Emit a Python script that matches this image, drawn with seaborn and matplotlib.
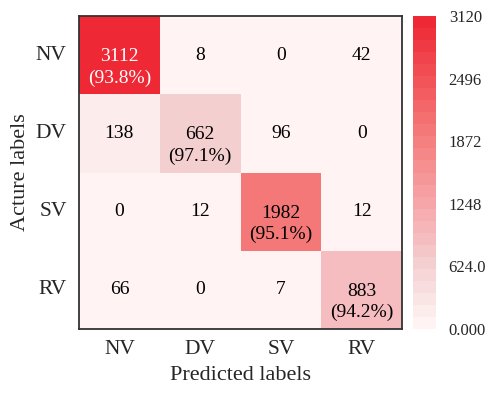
import numpy as np
import pandas as pd
import seaborn as sns
import matplotlib
matplotlib.use("Agg")
import matplotlib.pyplot as plt
from matplotlib.colors import LinearSegmentedColormap

classes = ["NV", "DV", "SV", "RV"]
row_nv = [3112, 8, 0, 42]
row_dv = [138, 662, 96, 0]
row_sv = [0, 12, 1982, 12]
row_rv = [66, 0, 7, 883]
cbar_ticks = [0, 624, 1248, 1872, 2496, 3120]
cbar_labels = ["0.000", "624.0", "1248", "1872", "2496", "3120"]

sns.set_style("white")
plt.rcParams["font.family"] = ["Liberation Serif", "DejaVu Serif"]

cm = np.array([row_nv, row_dv, row_sv, row_rv])
df = pd.DataFrame(cm, index=classes, columns=classes)
colsum = cm.sum(axis=0)

cmap = LinearSegmentedColormap.from_list(
    "redmap",
    [(0.0, "#fff3f3"), (0.21, "#f3cdce"), (0.28, "#f6bdc0"),
     (0.635, "#f57979"), (1.0, "#ee2834")],
    N=26)

fig = plt.figure(figsize=(4.89, 3.93), dpi=100)
ax = fig.add_axes([0.1616, 0.163, 0.6605, 0.796])
cax = fig.add_axes([0.845, 0.163, 0.047, 0.796])

sns.heatmap(df, ax=ax, cbar_ax=cax, cmap=cmap, vmin=0, vmax=3120,
            annot=False, cbar_kws={"ticks": cbar_ticks})

for i in range(4):
    for j in range(4):
        v = cm[i, j]
        col = "white" if v > 2500 else "black"
        if i == j:
            ax.text(j + 0.5, i + 0.52, f"{v}", ha="center", va="center",
                    fontsize=14, color=col)
            ax.text(j + 0.5, i + 0.79, f"({v / colsum[j] * 100:.1f}%)",
                    ha="center", va="center", fontsize=14, color=col)
        else:
            ax.text(j + 0.5, i + 0.5, f"{v}", ha="center", va="center",
                    fontsize=14, color=col)

for s in ax.spines.values():
    s.set_visible(True)
    s.set_color("#333333")
    s.set_linewidth(1.3)

ax.tick_params(axis="both", length=0, labelsize=15.5)
ax.tick_params(axis="x", pad=8)
ax.tick_params(axis="y", pad=9)
plt.setp(ax.get_yticklabels(), rotation=0)
ax.set_xlabel("Predicted labels", fontsize=16, labelpad=5)
ax.set_ylabel("Acture labels", fontsize=16, labelpad=4)

cax.set_yticks(cbar_ticks)
cax.set_yticklabels(cbar_labels)
cax.tick_params(length=0, labelsize=12, pad=9)
for s in cax.spines.values():
    s.set_visible(False)

fig.savefig("out.png", dpi=100)
